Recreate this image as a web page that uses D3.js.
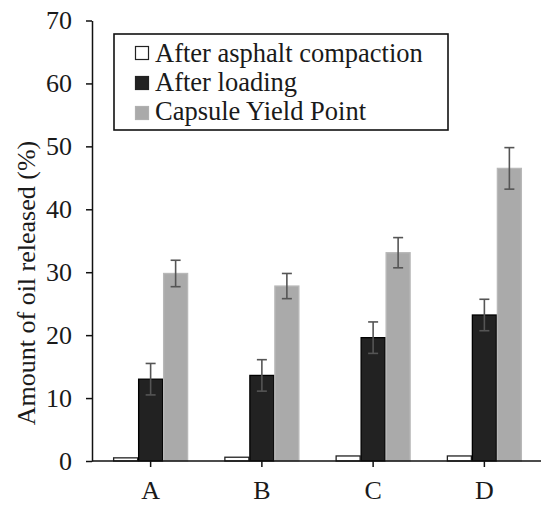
<!DOCTYPE html>
<html>
<head>
<meta charset="utf-8">
<script src="https://cdn.jsdelivr.net/npm/d3@7/dist/d3.min.js"></script>
<style>
  html, body { margin: 0; padding: 0; background: #fff; }
  svg { display: block; }
  svg text { font-family: 'Liberation Serif', 'Times New Roman', Times, Tinos, 'DejaVu Serif', serif !important; fill: #1a1a1a; }
</style>
</head>
<body>
<svg id="chart" width="541" height="505"></svg>
<script>
const categories = ["A", "B", "C", "D"];
const seriesNames = ["After asphalt compaction", "After loading", "Capsule Yield Point"];
const compaction = [0.5, 0.6, 0.8, 0.8];
const loading = [13.0, 13.6, 19.6, 23.2];
const loadingErr = [2.5, 2.5, 2.5, 2.5];
const yieldPoint = [29.8, 27.8, 33.1, 46.5];
const yieldErr = [2.1, 2.0, 2.4, 3.3];
const yTicks = [0, 10, 20, 30, 40, 50, 60, 70];

const series = [
  { name: seriesNames[0], values: compaction, errs: null, fill: "#ffffff", stroke: "#222" },
  { name: seriesNames[1], values: loading, errs: loadingErr, fill: "#222222", stroke: "#000" },
  { name: seriesNames[2], values: yieldPoint, errs: yieldErr, fill: "#aaaaaa", stroke: "#b8b8b8" }
];

const svg = d3.select("#chart");
const axisX0 = 92, axisX1 = 541;

const y = d3.scaleLinear().domain([0, 70]).range([461, 20.5]);
const x = d3.scaleBand().domain(categories).range([95, 540]).padding(0);
const barW = 24;
const offsets = [-25, 0, 25];

series.forEach((s, si) => {
  const g = svg.append("g");
  g.selectAll("rect").data(categories).enter().append("rect")
    .attr("x", (c) => x(c) + x.bandwidth() / 2 + offsets[si] - barW / 2)
    .attr("y", (c, i) => y(s.values[i]))
    .attr("width", barW)
    .attr("height", (c, i) => y(0) - y(s.values[i]))
    .attr("fill", s.fill)
    .attr("stroke", s.stroke)
    .attr("stroke-width", 1.3);
  if (s.errs) {
    categories.forEach((c, i) => {
      const cx = x(c) + x.bandwidth() / 2 + offsets[si];
      const top = y(s.values[i] + s.errs[i]);
      const bot = y(s.values[i] - s.errs[i]);
      const eg = svg.append("g").attr("stroke", "#555").attr("stroke-width", 1.6);
      eg.append("line").attr("x1", cx).attr("x2", cx).attr("y1", top).attr("y2", bot);
      eg.append("line").attr("x1", cx - 5).attr("x2", cx + 5).attr("y1", top).attr("y2", top);
      eg.append("line").attr("x1", cx - 5).attr("x2", cx + 5).attr("y1", bot).attr("y2", bot);
    });
  }
});

const yAxis = d3.axisLeft(y).tickValues(yTicks).tickSize(6).tickSizeOuter(0).tickPadding(14);
const yg = svg.append("g").attr("transform", `translate(${axisX0},0)`).call(yAxis).attr("font-family", null);
yg.select(".domain").attr("stroke", "#111").attr("stroke-width", 1.5);
yg.selectAll(".tick line").attr("stroke", "#111").attr("stroke-width", 1.5);
yg.selectAll(".tick text").style("font-size", "26px").attr("fill", "#1a1a1a");

const xAxis = d3.axisBottom(x).tickSize(6).tickSizeOuter(0).tickPadding(14);
const xg = svg.append("g").attr("transform", `translate(0,${y(0)})`).call(xAxis).attr("font-family", null);
xg.select(".domain").remove();
xg.selectAll(".tick line").attr("stroke", "#111").attr("stroke-width", 1.5);
xg.selectAll(".tick text").style("font-size", "26px").attr("fill", "#1a1a1a");
svg.append("line").attr("x1", axisX0).attr("x2", axisX1).attr("y1", y(0)).attr("y2", y(0))
  .attr("stroke", "#111").attr("stroke-width", 1.5);

svg.append("text")
  .attr("transform", `translate(35,${283}) rotate(-90)`)
  .attr("text-anchor", "middle")
  .style("font-size", "26px")
  .text("Amount of oil released (%)");

const lg = svg.append("g");
lg.append("rect").attr("x", 114).attr("y", 34).attr("width", 334).attr("height", 96)
  .attr("fill", "#fff").attr("stroke", "#111").attr("stroke-width", 1.6);
series.forEach((s, si) => {
  const cy = 53 + si * 30;
  lg.append("rect").attr("x", 135.5).attr("y", cy - 6.5).attr("width", 13).attr("height", 13)
    .attr("fill", s.fill).attr("stroke", si === 2 ? "#b0b0b0" : "#222").attr("stroke-width", 1.2);
  lg.append("text").attr("x", 155).attr("y", 62 + si * 29).style("font-size", "26.5px").text(s.name);
});
</script>
</body>
</html>
